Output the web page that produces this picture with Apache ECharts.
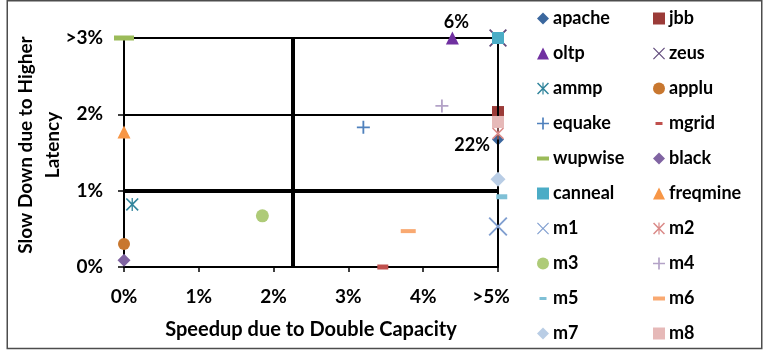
<!DOCTYPE html>
<html>
<head>
<meta charset="utf-8">
<script src="https://cdn.jsdelivr.net/npm/echarts@6/dist/echarts.min.js"></script>
<style>
  html, body { margin: 0; padding: 0; background: #ffffff; }
  #chart { width: 765px; height: 350px; }
</style>
</head>
<body>
<div id="chart"></div>
<script>
// Workloads, in legend order
const workloads = ['apache', 'jbb', 'oltp', 'zeus', 'ammp', 'applu', 'equake', 'mgrid', 'wupwise', 'black',
                   'canneal', 'freqmine', 'm1', 'm2', 'm3', 'm4', 'm5', 'm6', 'm7', 'm8'];
// Speedup due to doubled capacity (%); anything beyond 5% sits on the ">5%" edge
const speedup  = [5, 5, 4.39, 5, 0.11, 0, 3.2, 3.46, 0, 0, 5, 0, 5, 5, 1.85, 4.25, 5.05, 3.8, 5, 5];
// Slow down due to higher latency (%); anything beyond 3% sits on the ">3%" edge
const slowdown = [1.67, 2.03, 3.0, 3.0, 0.82, 0.3, 1.83, 0.0, 3.0, 0.09, 3.0, 1.77, 0.53, 1.75, 0.67, 2.11, 0.92, 0.47, 1.15, 1.9];
// Actual values of the points pinned to an edge
const offScaleNotes = { apache: '22%', oltp: '6%' };
const xTickLabels = ['0%', '1%', '2%', '3%', '4%', '>5%'];
const yTickLabels = ['0%', '1%', '2%', '>3%'];
const speedupThreshold = 2.245;
const slowdownThreshold = 1;

// Marker shapes
const X_PATH = 'path://M0,1.4L1.4,0L10,8.6L18.6,0L20,1.4L11.4,10L20,18.6L18.6,20L10,11.4L1.4,20L0,18.6L8.6,10Z';
const STAR_PATH = 'path://M0,1.8L1.8,0L10,8.2L18.2,0L20,1.8L11.8,10L20,18.2L18.2,20L10,11.8L1.8,20L0,18.2L8.2,10Z M9,0H11V20H9Z';
const PLUS_PATH = 'path://M8.6,0H11.4V8.6H20V11.4H11.4V20H8.6V11.4H0V8.6H8.6Z';
const DASH_WIDE_ICON = 'path://M0,0M12,12M0,4H12V8H0Z';
const DASH_SHORT_ICON = 'path://M0,0M12,12M2.5,4.5H9.5V7.5H2.5Z';

const markerStyle = {
  apache:   { color: '#3B679E', symbol: 'diamond',  size: 12 },
  jbb:      { color: '#9B3B38', symbol: 'rect',     size: 12 },
  oltp:     { color: '#7030A0', symbol: 'triangle', size: 13 },
  zeus:     { color: '#604A7B', symbol: X_PATH,     size: 18 },
  ammp:     { color: '#31859C', symbol: STAR_PATH,  size: 13 },
  applu:    { color: '#C8772F', symbol: 'circle',   size: 12 },
  equake:   { color: '#4F81BD', symbol: PLUS_PATH,  size: 13 },
  mgrid:    { color: '#C0504D', symbol: 'rect',     size: [11, 5], icon: DASH_SHORT_ICON },
  wupwise:  { color: '#9BBB59', symbol: 'rect',     size: [20, 5], icon: DASH_WIDE_ICON },
  black:    { color: '#8064A2', symbol: 'diamond',  size: 13 },
  canneal:  { color: '#4BACC6', symbol: 'rect',     size: 12 },
  freqmine: { color: '#F79646', symbol: 'triangle', size: 13 },
  m1:       { color: '#819FD0', symbol: X_PATH,     size: 19 },
  m2:       { color: '#DA8A88', symbol: STAR_PATH,  size: 12 },
  m3:       { color: '#AECB78', symbol: 'circle',   size: 13 },
  m4:       { color: '#B3A2C7', symbol: PLUS_PATH,  size: 13 },
  m5:       { color: '#7FC0D6', symbol: 'rect',     size: [11, 5], icon: DASH_SHORT_ICON },
  m6:       { color: '#F9A971', symbol: 'rect',     size: [15, 4], icon: DASH_WIDE_ICON },
  m7:       { color: '#B9CDE5', symbol: 'diamond',  size: 15 },
  m8:       { color: '#E6B9B8', symbol: 'rect',     size: 12 }
};

const FONT = 'Lato, "Open Sans", sans-serif';

const noteLabel = {
  oltp:   { position: 'top',  distance: 0, offset: [4, 0] },
  apache: { position: 'left', distance: 2, offset: [0, 6] }
};

const series = [{
  // quadrant guides and the far edge of the plot
  name: 'guides',
  type: 'scatter',
  data: [],
  silent: true,
  z: 1,
  markLine: {
    silent: true,
    symbol: 'none',
    label: { show: false },
    animation: false,
    data: [
      { yAxis: slowdownThreshold, lineStyle: { color: '#000', width: 4, type: 'solid' } },
      { xAxis: speedupThreshold, lineStyle: { color: '#000', width: 4, type: 'solid' } },
      { xAxis: 5, lineStyle: { color: '#000', width: 2, type: 'solid' } }
    ]
  }
}];

workloads.forEach((name, i) => {
  const st = markerStyle[name];
  const s = {
    name: name,
    type: 'scatter',
    clip: false,
    z: 3 + i,
    symbol: st.symbol,
    symbolSize: st.size,
    itemStyle: { color: st.color, opacity: 1 },
    data: [[speedup[i], slowdown[i]]]
  };
  if (offScaleNotes[name]) {
    s.label = Object.assign({
      show: true,
      formatter: offScaleNotes[name],
      color: '#000',
      fontFamily: FONT,
      fontWeight: 'bold',
      fontSize: 18
    }, noteLabel[name]);
  }
  series.push(s);
});

function legendColumn(names, left) {
  return {
    orient: 'vertical',
    left: left,
    top: 9.5,
    height: 340,
    padding: 0,
    itemWidth: 12,
    itemHeight: 12,
    itemGap: 17,
    selectedMode: false,
    textStyle: { color: '#000', fontFamily: FONT, fontWeight: 'bold', fontSize: 18, lineHeight: 17, padding: [0, 0, 0, -1] },
    data: names.map(n => markerStyle[n].icon ? { name: n, icon: markerStyle[n].icon } : { name: n })
  };
}

const chart = echarts.init(document.getElementById('chart'), null, { renderer: 'canvas' });
chart.setOption({
  animation: false,
  backgroundColor: '#ffffff',
  graphic: [{
    type: 'rect',
    silent: true,
    z: 0,
    shape: { x: 7.25, y: 0.75, width: 754.5, height: 347.75 },
    style: { fill: null, stroke: '#4d4d4d', lineWidth: 1.5 }
  }],
  grid: { left: 124, right: 267, top: 38, bottom: 83 },
  legend: [
    legendColumn(workloads.filter((_, i) => i % 2 === 0), 537),
    legendColumn(workloads.filter((_, i) => i % 2 === 1), 653)
  ],
  xAxis: {
    type: 'value',
    min: 0,
    max: 5,
    interval: 1,
    name: 'Speedup due to Double Capacity',
    nameLocation: 'middle',
    nameGap: 53,
    nameMoveOverlap: false,
    nameTextStyle: { color: '#000', fontFamily: FONT, fontWeight: 'bold', fontSize: 20, verticalAlign: 'top' },
    axisLine: { show: true, onZero: false, lineStyle: { color: '#000', width: 2 } },
    axisTick: { show: true, length: 5, lineStyle: { color: '#000', width: 1.5 } },
    splitLine: { show: false },
    axisLabel: {
      margin: 20,
      color: '#000',
      fontFamily: FONT,
      fontWeight: 'bold',
      fontSize: 19,
      formatter: (v, idx) => idx === xTickLabels.length - 1 ? '{edge|' + xTickLabels[idx] + '}' : xTickLabels[idx],
      rich: { edge: { color: '#000', fontFamily: FONT, fontWeight: 'bold', fontSize: 19, padding: [0, 14, 0, 0] } }
    }
  },
  yAxis: {
    type: 'value',
    min: 0,
    max: 3,
    interval: 1,
    name: 'Slow Down due to Higher\nLatency',
    nameLocation: 'middle',
    nameRotate: 90,
    nameGap: 58,
    nameMoveOverlap: false,
    nameTextStyle: { color: '#000', fontFamily: FONT, fontWeight: 'bold', fontSize: 19, lineHeight: 27, padding: [0, 0, 0, 15] },
    axisLine: { show: true, onZero: false, lineStyle: { color: '#000', width: 2 } },
    axisTick: { show: true, length: 6, lineStyle: { color: '#000', width: 1.5 } },
    splitLine: { show: true, lineStyle: { color: '#000', width: 2 } },
    axisLabel: {
      margin: 21,
      color: '#000',
      fontFamily: FONT,
      fontWeight: 'bold',
      fontSize: 19,
      formatter: (v, idx) => yTickLabels[idx]
    }
  },
  series: series
});
</script>
</body>
</html>
